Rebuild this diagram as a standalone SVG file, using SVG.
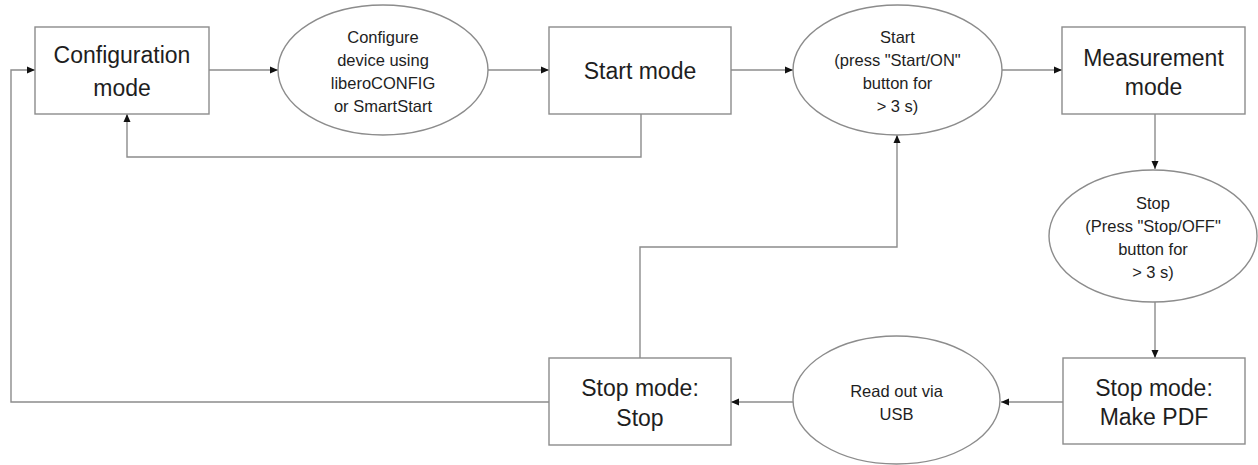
<svg xmlns="http://www.w3.org/2000/svg" width="1258" height="465" viewBox="0 0 1258 465">
<style>
.box{fill:#fff;stroke:#8c8c8c;stroke-width:1.4}
.ell{fill:#fff;stroke:#8c8c8c;stroke-width:1.4}
.bt{font-family:"Liberation Sans",Arial,sans-serif;font-size:23px;fill:#1e1e1e;text-anchor:middle}
.et{font-family:"Liberation Sans",Arial,sans-serif;font-size:16.5px;fill:#1e1e1e;text-anchor:middle}
.con path{fill:none;stroke:#8c8c8c;stroke-width:1.4;marker-end:url(#ah)}
</style>
<defs>
<marker id="ah" markerUnits="userSpaceOnUse" markerWidth="8" markerHeight="8" refX="8" refY="4" orient="auto" viewBox="0 0 8 8">
<path d="M0,0.5 L8,4 L0,7.5 z" fill="#111"/>
</marker>
</defs>
<rect width="1258" height="465" fill="#fff"/>
<g id="connectors" class="con">
<path d="M209,70 H278"/>
<path d="M488,70 H549"/>
<path d="M731,70 H793"/>
<path d="M1002,70 H1062"/>
<path d="M1155,114 V169"/>
<path d="M1155,302 V358"/>
<path d="M1063,402 H1001"/>
<path d="M793,402 H731"/>
<path d="M640,358 V247 H897 V135"/>
<path d="M549,402 H11 V70 H35"/>
<path d="M641,114 V157 H127 V114"/>
</g>
<g id="config">
<rect class="box" x="35" y="27" width="174" height="87"/>
<text class="bt" x="122" y="63">Configuration</text>
<text class="bt" x="122" y="96">mode</text>
</g>
<g id="configure">
<ellipse class="ell" cx="383" cy="70" rx="105" ry="65"/>
<text class="et" x="383" y="43">Configure</text>
<text class="et" x="383" y="66">device using</text>
<text class="et" x="383" y="89">liberoCONFIG</text>
<text class="et" x="383" y="112">or SmartStart</text>
</g>
<g id="startmode">
<rect class="box" x="549" y="27" width="182" height="87"/>
<text class="bt" x="640" y="79">Start mode</text>
</g>
<g id="start">
<ellipse class="ell" cx="897.5" cy="70" rx="104.5" ry="65"/>
<text class="et" x="897.5" y="43">Start</text>
<text class="et" x="897.5" y="66">(press "Start/ON"</text>
<text class="et" x="897.5" y="89">button for</text>
<text class="et" x="897.5" y="112">&gt; 3 s)</text>
</g>
<g id="measurement">
<rect class="box" x="1062" y="27" width="183" height="87"/>
<text class="bt" x="1153.5" y="66">Measurement</text>
<text class="bt" x="1153.5" y="95">mode</text>
</g>
<g id="stop">
<ellipse class="ell" cx="1153" cy="236" rx="104" ry="66"/>
<text class="et" x="1153" y="209">Stop</text>
<text class="et" x="1153" y="232">(Press "Stop/OFF"</text>
<text class="et" x="1153" y="255">button for</text>
<text class="et" x="1153" y="278">&gt; 3 s)</text>
</g>
<g id="makepdf">
<rect class="box" x="1063" y="358" width="182" height="86"/>
<text class="bt" x="1154" y="396">Stop mode:</text>
<text class="bt" x="1154" y="425">Make PDF</text>
</g>
<g id="readout">
<ellipse class="ell" cx="896.5" cy="400" rx="103.5" ry="64"/>
<text class="et" x="896.5" y="397">Read out via</text>
<text class="et" x="896.5" y="420">USB</text>
</g>
<g id="stopmode">
<rect class="box" x="549" y="358" width="182" height="87"/>
<text class="bt" x="640" y="396">Stop mode:</text>
<text class="bt" x="640" y="426">Stop</text>
</g>
</svg>
